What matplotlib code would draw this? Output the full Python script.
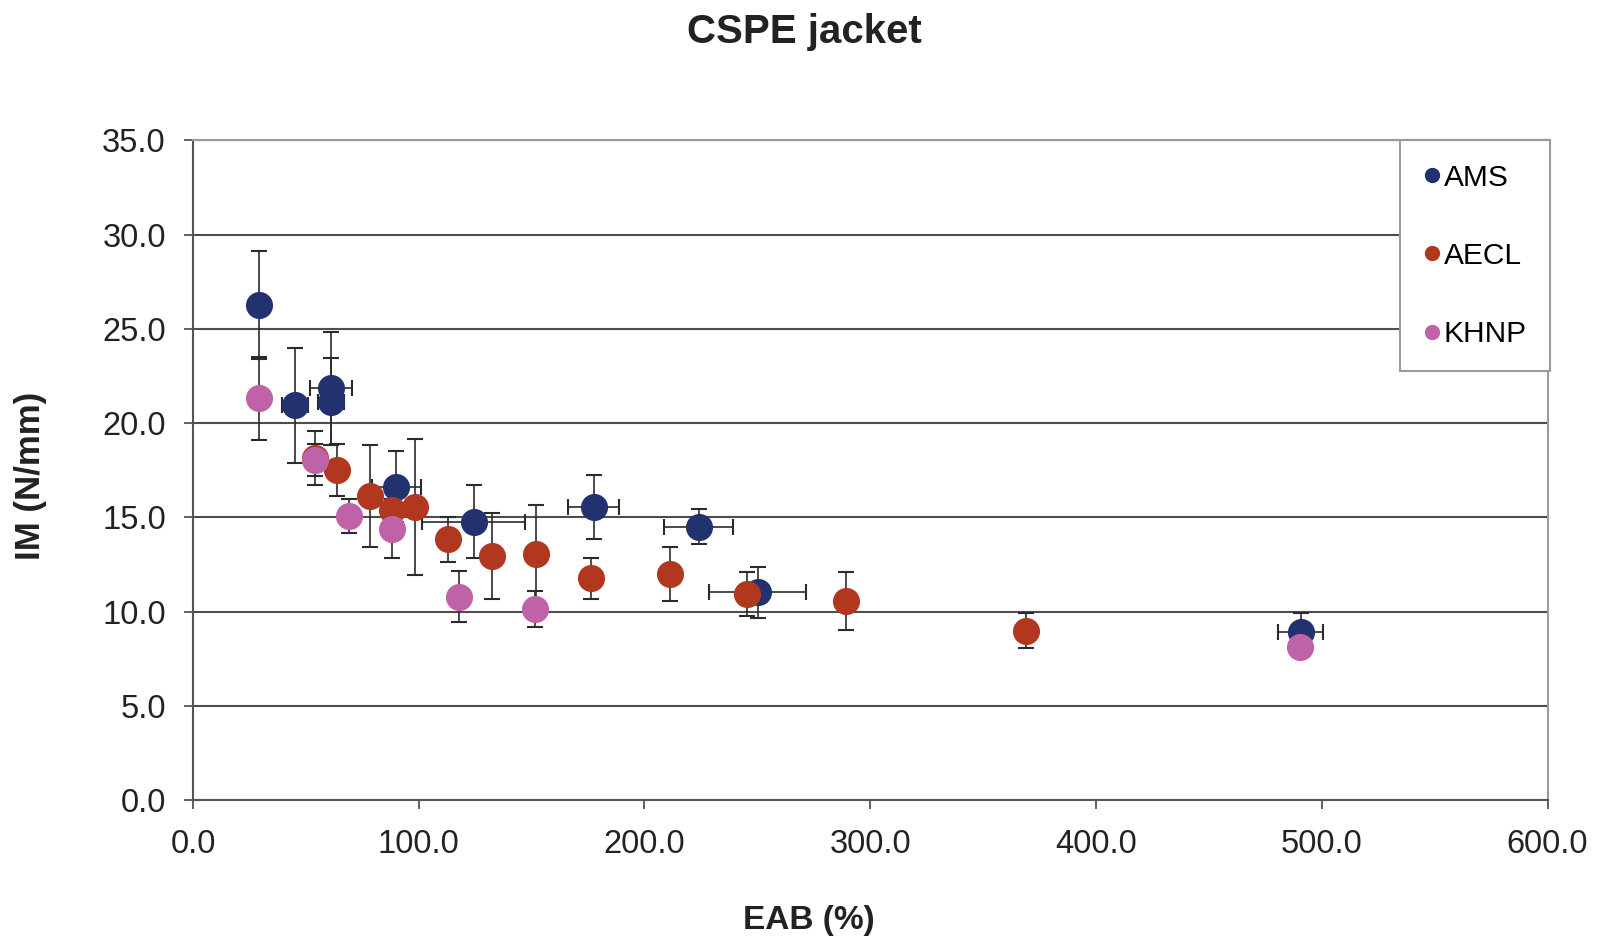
import matplotlib
matplotlib.use("Agg")
import matplotlib.pyplot as plt
from matplotlib.lines import Line2D
from matplotlib.ticker import FormatStrFormatter

plt.rcParams["font.family"] = ["Liberation Sans", "DejaVu Sans"]

# AMS: EAB, IM, errors (x and y)
ams_x = [29.2, 45.2, 61.1, 61.1, 90.1, 124.3, 177.5, 224.0, 250.1, 490.6]
ams_y = [26.27, 20.94, 21.85, 21.14, 16.63, 14.77, 15.56, 14.50, 11.02, 8.93]
ams_xerr = [0.0, 5.8, 9.2, 5.8, 10.9, 22.7, 11.3, 15.2, 21.4, 10.0]
ams_yerr = [2.85, 3.05, 3.0, 2.3, 1.9, 1.95, 1.7, 0.93, 1.37, 1.0]

# AECL
aecl_x = [53.9, 63.8, 78.5, 88.3, 98.2, 112.9, 132.4, 152.1, 176.4, 211.1, 245.4, 289.4, 368.9]
aecl_y = [18.15, 17.51, 16.15, 15.39, 15.56, 13.83, 12.96, 13.04, 11.76, 11.99, 10.93, 10.57, 8.98]
aecl_yerr = [1.45, 1.38, 2.7, 0.6, 3.6, 1.2, 2.27, 2.6, 1.1, 1.43, 1.16, 1.53, 0.93]

# KHNP
khnp_x = [29.4, 54.0, 68.9, 88.3, 117.8, 151.6, 490.2]
khnp_y = [21.32, 18.04, 15.07, 14.40, 10.79, 10.12, 8.12]
khnp_yerr = [2.2, 0.85, 0.9, 1.55, 1.35, 0.95, 0.0]

C_AMS = "#22326f"
C_AECL = "#b1371f"
C_KHNP = "#c062a7"

fig = plt.figure(figsize=(16.08, 9.41), dpi=100)
ax = fig.add_axes([0.120, 0.1498, 0.8424, 0.7009])

eb = dict(fmt="o", ms=18.5, ecolor="#2b2b2b", elinewidth=1.2, capsize=6, capthick=1.5)
for xs, ys, ye, xe, c in [
    (ams_x, ams_y, ams_yerr, ams_xerr, C_AMS),
    (aecl_x, aecl_y, aecl_yerr, None, C_AECL),
    (khnp_x, khnp_y, khnp_yerr, None, C_KHNP),
]:
    ax.errorbar(xs, ys, yerr=ye, xerr=xe, color=c, mec=c, **eb)

ax.set_xlim(0, 600)
ax.set_ylim(0, 35)
ax.set_xticks(range(0, 601, 100))
ax.set_yticks(range(0, 36, 5))
ax.xaxis.set_major_formatter(FormatStrFormatter("%.1f"))
ax.yaxis.set_major_formatter(FormatStrFormatter("%.1f"))
ax.tick_params(axis="both", labelsize=23.5, labelcolor="#222222", color="#555555",
               length=6.5, width=1.3, direction="out")
ax.tick_params(axis="x", pad=14)
ax.tick_params(axis="y", pad=13)

ax.set_axisbelow(True)
ax.yaxis.grid(True, color="#4d4d4d", linewidth=1.5)
for side in ["left", "bottom"]:
    ax.spines[side].set_color("#555555")
    ax.spines[side].set_linewidth(1.5)
for side in ["top", "right"]:
    ax.spines[side].set_color("#9a9a9a")
    ax.spines[side].set_linewidth(1.5)

handles = [
    Line2D([], [], ls="none", marker="o", ms=10, color=C_AMS, label="AMS"),
    Line2D([], [], ls="none", marker="o", ms=10, color=C_AECL, label="AECL"),
    Line2D([], [], ls="none", marker="o", ms=10, color=C_KHNP, label="KHNP"),
]
leg = ax.legend(handles=handles, loc="upper right", bbox_to_anchor=(1.002, 1.0),
                borderaxespad=0, fontsize=21.5, labelspacing=1.68, handlelength=0.6,
                handletextpad=0.1, borderpad=0.78, fancybox=False, framealpha=1)
leg.get_frame().set_edgecolor("#9a9a9a")
leg.get_frame().set_linewidth(1.5)

fig.text(0.5, 0.966, "CSPE jacket", ha="center", va="center",
         fontsize=29, fontweight="bold", color="#222222")
fig.text(0.503, 0.022, "EAB (%)", ha="center", va="center",
         fontsize=24, fontweight="bold", color="#222222")
fig.text(0.019, 0.494, "IM (N/mm)", ha="center", va="center", rotation=90,
         fontsize=25, fontweight="bold", color="#222222")

fig.savefig("out.png", dpi=100)
